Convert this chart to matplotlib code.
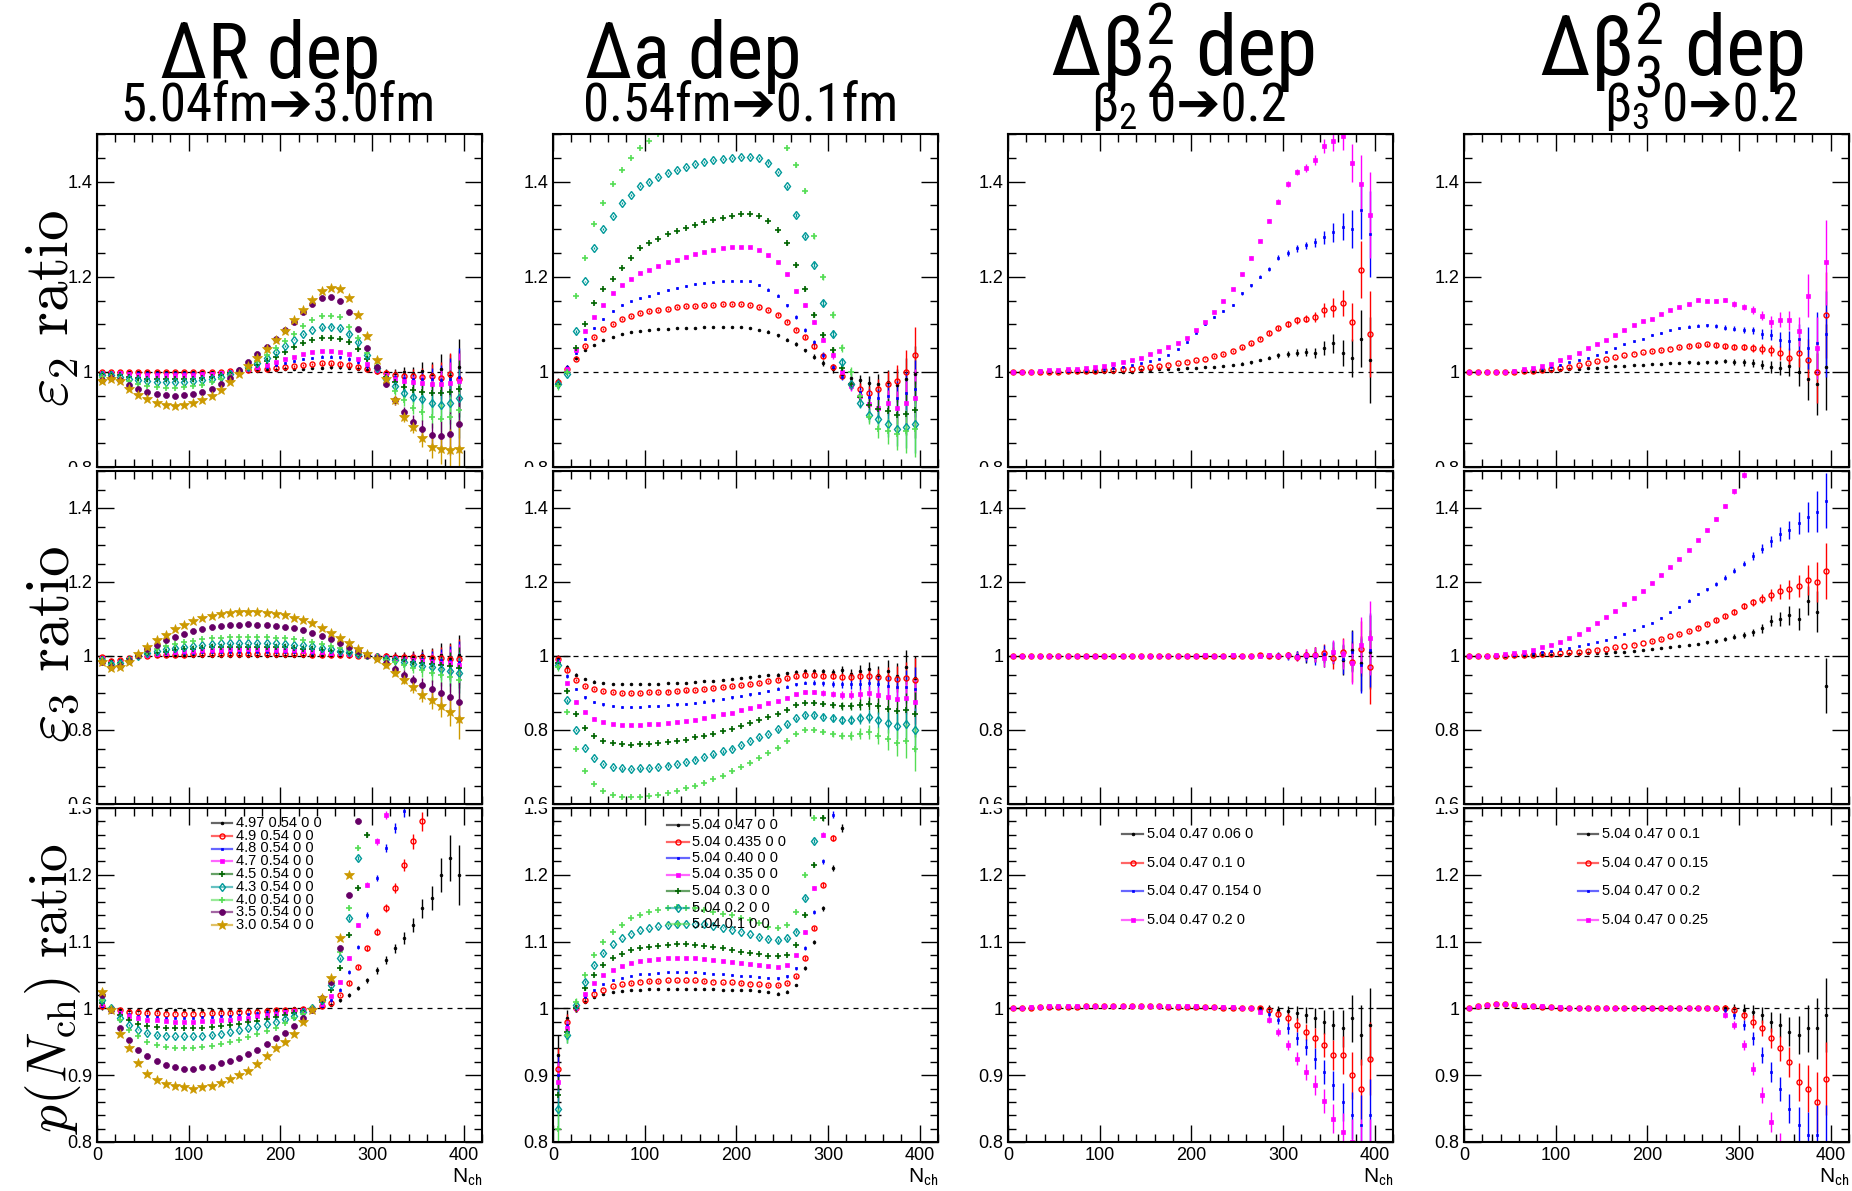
import numpy as np
import matplotlib
matplotlib.use('Agg')
import matplotlib.pyplot as plt
from matplotlib.lines import Line2D
from matplotlib.ticker import MultipleLocator, FormatStrFormatter
from matplotlib.transforms import Bbox, TransformedBbox
from matplotlib import font_manager

# bin centres in N_ch
nch = [5, 15, 25, 35, 45, 55, 65, 75, 85, 95, 105, 115, 125, 135, 145, 155, 165, 175, 185, 195,
       205, 215, 225, 235, 245, 255, 265, 275, 285, 295, 305, 315, 325, 335, 345, 355, 365, 375, 385, 395]

# all values below are (ratio - 1) x 1000, None = off the plot

# ---- eps2 ratio, Delta R
e2_dR_497 = [0,0,0,0,0,0,0,0,0,0, 0,0,0,0,0,1,1,2,3,4, 5,6,7,8,9,10,10,9,7,4, 1,-1,-2,0,-3,2,-4,5,-8,10]
e2_dR_49 = [0,0,0,-1,-1,-1,-1,-1,-1,-1, -1,-1,0,0,1,2,3,5,7,9, 11,13,15,17,18,18,17,15,11,6, 1,-3,-6,-8,-9,-10,-8,-12,-5,-15]
e2_dR_48 = [0,-1,-1,-2,-3,-3,-3,-3,-3,-3, -3,-2,-2,-1,1,3,5,8,11,15, 19,23,27,30,32,32,31,27,20,12, 3,-5,-10,-13,-15,-16,-15,-17,-15,-10]
e2_dR_47 = [-2,-2,-3,-5,-6,-7,-7,-7,-7,-7, -6,-5,-4,-2,0,3,6,10,15,20, 26,32,37,41,43,43,42,37,28,16, 4,-6,-15,-20,-22,-24,-25,-26,-24,-20]
e2_dR_45 = [-5,-5,-7,-10,-12,-14,-15,-15,-15,-15, -14,-12,-10,-7,-3,2,8,15,23,32, 42,52,61,68,72,72,70,62,48,28, 8,-10,-22,-32,-38,-42,-45,-45,-42,-35]
e2_dR_43 = [-7,-7,-10,-14,-18,-20,-22,-22,-22,-22, -20,-18,-15,-10,-5,1,10,19,30,42, 55,68,80,89,94,95,92,80,62,35, 8,-15,-30,-45,-52,-58,-65,-70,-65,-55]
e2_dR_40 = [-10,-10,-14,-20,-25,-29,-31,-33,-33,-32, -30,-27,-22,-16,-8,0,10,22,35,50, 65,80,97,110,117,118,115,95,72,40, 12,-15,-40,-60,-75,-85,-95,-100,-95,-80]
e2_dR_35 = [-18,-13,-17,-28,-37,-43,-47,-49,-50,-49, -47,-42,-35,-25,-12,3,20,37,53,70, 88,105,125,142,155,157,150,125,90,50, 10,-25,-60,-85,-105,-120,-132,-135,-130,-110]
e2_dR_30 = [-20,-14,-20,-35,-48,-58,-65,-69,-71,-70, -66,-60,-50,-38,-22,-5,12,30,48,66, 85,108,130,152,170,177,175,155,120,75, 25,-15,-60,-95,-115,-140,-158,-162,-165,-162]
err_e2_dR = [2,2,2,2,2,2,2,2,2,2, 2,2,2,2,2,2,2,2,2,2, 2,2,2,2,3,3,3,4,4,5, 6,7,9,11,14,18,24,32,45,60]

# ---- eps2 ratio, Delta a
e2_da_047 = [-20,10,30,45,57,67,74,79,83,86, 88,90,91,92,92,93,94,94,94,94, 94,92,89,84,77,68,58,45,32,18, 5,-5,-13,-18,-23,-25,-22,-28,-15,-5]
e2_da_0435 = [-22,5,28,55,73,90,100,111,118,123, 127,130,133,136,138,139,140,141,142,142, 142,140,137,130,120,105,89,73,54,33, 10,-8,-25,-35,-45,-35,-25,-20,0,35]
e2_da_040 = [-22,10,40,70,92,112,128,140,148,155, 160,166,172,177,181,185,187,189,191,192, 192,190,182,173,160,140,115,88,62,35, 10,-10,-28,-42,-52,-55,-50,-55,-45,-35]
e2_da_035 = [-25,5,45,85,115,140,165,182,195,207, 215,222,230,236,242,248,253,257,260,262, 262,262,257,245,230,205,170,140,105,68, 35,0,-30,-50,-68,-75,-65,-75,-65,-55]
e2_da_03 = [-25,0,50,100,145,175,195,218,240,260, 270,280,290,296,302,308,314,319,324,328, 331,332,328,318,298,270,225,175,120,78, 45,8,-25,-52,-70,-78,-82,-90,-88,-80]
e2_da_02 = [-25,-5,85,190,260,300,328,355,372,390, 400,410,418,424,430,436,441,445,448,450, 452,452,450,440,420,390,330,285,225,145, 80,20,-25,-65,-90,-100,-110,-120,-115,-110]
e2_da_01 = [-30,0,160,240,310,355,395,425,450,470, 485,500,515,525,535,545,550,555,560,562, 565,565,560,545,515,470,435,380,285,200, 120,50,0,-50,-95,-120,-125,-130,-125,-120]
err_e2_da = [8,4,3,2,2,2,2,2,2,2, 2,2,2,2,2,2,2,2,2,2, 2,2,2,3,3,3,4,4,5,6, 7,8,10,12,15,20,26,35,45,60]

# ---- eps2 ratio, beta2
e2_b2_006 = [0,0,0,0,0,0,0,0,0,0, 0,0,0,0,3,4,5,6,7,8, 9,10,11,12,14,17,20,25,30,35, 38,40,42,40,50,60,40,30,70,25]
e2_b2_01 = [0,0,0,0,0,0,1,1,2,2, 3,4,5,6,8,10,12,15,18,21, 24,28,33,38,43,52,60,70,82,92, 100,108,112,115,130,135,145,105,215,80]
e2_b2_0154 = [0,0,0,0,1,2,2,3,4,5, 7,9,11,14,18,22,28,36,47,62, 82,100,115,127,140,165,182,200,217,240, 250,260,266,272,283,293,305,300,340,290]
e2_b2_02 = [0,0,0,1,3,4,5,6,8,10, 13,16,20,25,30,37,44,52,60,72, 88,105,125,150,175,205,240,275,318,358, 395,420,428,445,475,485,495,440,395,330]
err_e2_b2 = [1,1,1,1,1,1,1,1,1,1, 1,1,1,1,1,1,1,1,1,1, 1,2,2,2,2,3,3,3,4,5, 6,7,8,10,14,20,28,40,60,90]

# ---- eps2 ratio, beta3
e2_b3_01 = [0,0,0,0,0,0,0,0,1,2, 3,5,6,8,9,10,12,13,14,15, 16,17,18,19,20,19,20,21,23,21, 20,18,15,10,8,12,0,-15,-25,10]
e2_b3_015 = [0,0,0,0,0,0,1,2,4,6, 8,11,14,18,22,26,31,35,38,41, 43,46,49,53,55,56,58,56,54,53, 52,50,48,45,40,30,40,25,0,120]
e2_b3_02 = [0,0,0,0,0,1,3,5,8,11, 15,20,25,30,36,42,50,58,64,70, 77,82,87,92,95,97,98,97,93,91, 88,87,80,78,68,65,70,50,60,80]
e2_b3_025 = [0,-1,-1,-1,0,2,5,8,12,17, 24,32,40,50,58,66,78,88,98,106, 112,122,130,136,142,152,150,150,151,142, 136,130,118,105,110,108,85,160,50,230]
err_e2_b3 = [1,1,1,1,1,1,1,1,1,1, 1,1,1,1,1,1,1,1,1,1, 2,2,2,2,3,3,3,4,5,6, 7,8,10,12,15,20,30,45,65,90]

# ---- eps3 ratio, Delta R
e3_dR_497 = [-3,-12,-10,-5,0,0,0,0,0,0, 0,0,0,0,0,0,0,0,0,0, 0,0,0,0,0,0,0,0,0,0, 0,0,0,0,-2,2,-3,4,-5,3]
e3_dR_49 = [-4,-14,-12,-6,0,1,2,3,4,4, 5,5,5,6,6,6,6,6,6,6, 5,5,5,4,4,3,2,2,1,0, 0,-1,-2,-3,-3,-4,-5,-6,-7,-8]
e3_dR_48 = [-5,-16,-14,-7,0,2,4,6,7,8, 9,10,11,11,12,12,12,12,12,11, 11,10,10,9,8,6,5,3,2,0, -1,-2,-4,-6,-7,-8,-10,-12,-13,-15]
e3_dR_47 = [-6,-18,-16,-8,0,4,6,9,11,13, 14,15,16,17,18,18,18,18,18,17, 16,16,14,13,11,9,7,5,3,1, -1,-3,-6,-8,-10,-13,-15,-18,-20,-23]
e3_dR_45 = [-8,-20,-18,-9,1,5,9,12,15,18, 20,21,23,24,25,25,25,25,25,24, 23,22,20,18,16,13,10,7,4,1, -2,-5,-8,-12,-15,-18,-21,-25,-28,-32]
e3_dR_43 = [-10,-22,-20,-10,1,8,13,18,22,25, 28,30,32,34,35,35,36,35,35,34, 32,31,29,26,22,18,14,10,6,2, -2,-7,-12,-17,-21,-26,-30,-35,-40,-45]
e3_dR_40 = [-12,-25,-22,-12,2,11,19,26,32,37, 41,45,48,50,51,52,52,52,51,50, 48,46,42,38,33,27,21,15,9,3, -3,-10,-17,-25,-32,-38,-45,-52,-58,-65]
e3_dR_35 = [-15,-30,-28,-14,3,18,31,42,52,60, 67,73,78,82,84,85,86,85,84,82, 79,75,70,63,55,45,35,24,14,4, -6,-20,-35,-50,-65,-78,-90,-100,-112,-125]
e3_dR_30 = [-15,-32,-30,-15,5,25,43,58,72,84, 94,102,109,114,117,119,120,119,117,114, 110,104,97,88,76,62,48,34,20,6, -7,-25,-45,-65,-85,-105,-120,-135,-150,-170]
err_e3_dR = [3,3,2,2,2,2,2,2,2,2, 2,2,2,2,2,2,2,2,2,2, 2,2,3,3,3,4,4,5,5,6, 7,8,10,12,15,18,24,30,40,55]

# ---- eps3 ratio, Delta a
e3_da_047 = [-6,-30,-50,-62,-69,-73,-75,-76,-76,-76, -76,-75,-74,-73,-72,-70,-68,-67,-65,-62, -60,-58,-55,-52,-50,-46,-42,-40,-40,-41, -42,-38,-48,-40,-35,-50,-40,-55,-30,-60]
e3_da_0435 = [-8,-39,-65,-81,-90,-95,-98,-99,-99,-99, -98,-98,-96,-95,-93,-91,-89,-87,-84,-81, -78,-75,-72,-68,-64,-60,-55,-52,-52,-53, -55,-56,-56,-55,-53,-56,-59,-61,-60,-65]
e3_da_040 = [-11,-54,-90,-112,-124,-131,-135,-137,-137,-137, -136,-135,-133,-131,-129,-126,-123,-120,-116,-112, -108,-104,-99,-94,-89,-83,-76,-72,-72,-74, -76,-77,-77,-76,-74,-77,-81,-85,-83,-90]
e3_da_035 = [-15,-74,-123,-152,-169,-179,-184,-186,-187,-186, -185,-184,-181,-179,-175,-172,-168,-163,-158,-153, -147,-141,-135,-128,-122,-113,-103,-98,-98,-100, -103,-105,-105,-103,-100,-105,-110,-115,-113,-123]
e3_da_03 = [-19,-95,-158,-195,-217,-230,-236,-239,-240,-239, -238,-236,-233,-230,-226,-220,-215,-210,-203,-197, -189,-181,-173,-165,-156,-145,-132,-126,-126,-129, -132,-135,-135,-132,-129,-135,-142,-148,-145,-158]
e3_da_02 = [-25,-120,-200,-248,-276,-292,-300,-304,-305,-304, -302,-300,-296,-292,-286,-280,-274,-266,-258,-250, -240,-230,-220,-210,-198,-184,-168,-160,-160,-164, -168,-172,-172,-168,-164,-172,-180,-188,-184,-200]
e3_da_01 = [-30,-150,-250,-310,-345,-365,-375,-380,-381,-380, -378,-375,-370,-365,-358,-350,-342,-333,-323,-312, -300,-288,-275,-262,-248,-230,-210,-200,-200,-205, -210,-215,-215,-210,-205,-215,-225,-235,-230,-250]
err_e3_da = [10,5,3,3,3,3,3,3,3,3, 3,3,3,3,3,3,3,3,3,3, 3,3,3,3,4,4,4,5,6,7, 8,10,12,15,18,22,28,35,45,60]

# ---- eps3 ratio, beta2
e3_b2_006 = [0,0,0,0,0,0,0,0,0,0, 0,0,1,0,1,0,1,1,0,1, 1,0,1,0,1,1,0,1,1,0, 1,2,-3,5,-6,8,-10,15,-20,10]
e3_b2_01 = [0,0,0,0,0,0,0,0,0,0, 0,1,0,1,0,1,1,0,1,1, 0,1,1,0,1,0,1,2,0,1, 2,-2,3,3,8,-5,10,-15,20,-30]
e3_b2_0154 = [0,0,0,0,0,0,0,0,0,0, 1,0,1,0,1,0,1,1,1,0, 1,1,0,1,1,1,0,1,0,2, -1,2,-2,-3,5,10,-8,12,-25,15]
e3_b2_02 = [0,0,0,0,0,0,0,0,1,0, 1,0,1,1,0,1,1,1,1,1, 1,2,1,1,2,1,1,0,2,1, 2,-2,4,4,-5,12,6,-20,30,50]
err_e3_b2 = [1,1,1,1,1,1,1,1,1,1, 1,1,1,1,1,1,1,1,1,1, 2,2,2,2,3,3,4,5,6,8, 10,12,15,20,25,30,40,55,75,100]

# ---- eps3 ratio, beta3
e3_b3_01 = [0,0,0,0,0,1,1,2,2,3, 4,5,6,7,8,9,10,12,14,16, 18,21,24,27,30,33,37,41,46,52, 58,64,75,95,100,110,100,150,120,-80]
e3_b3_015 = [0,0,0,0,1,2,3,4,5,6, 8,10,12,14,17,20,23,27,31,35, 40,46,53,60,68,77,87,97,108,120, 135,145,155,165,175,180,190,205,200,230]
e3_b3_02 = [0,0,0,1,2,4,6,8,11,14, 18,22,27,32,38,44,52,60,70,80, 90,104,118,133,150,167,180,195,212,230, 250,270,290,310,330,340,360,375,390,420]
e3_b3_025 = [0,0,1,3,5,8,12,17,23,30, 38,48,60,74,89,105,122,140,158,177, 197,218,240,263,287,313,340,370,405,445, 490,None,None,None,None,None,None,None,None,None]
err_e3_b3 = [1,1,1,1,1,1,1,1,1,1, 1,1,1,1,1,1,1,1,1,1, 2,2,2,3,3,3,4,5,6,7, 8,10,12,15,20,25,30,40,55,75]

# ---- p(Nch) ratio, Delta R
pn_dR_497 = [2,0,-1,-2,-2,-2,-2,-2,-2,-2, -2,-2,-2,-2,-2,-2,-1,-1,-1,-1, -1,0,0,0,2,5,12,20,30,42, 57,72,90,105,125,150,165,200,225,200]
pn_dR_49 = [3,0,-3,-5,-6,-7,-7,-8,-8,-8, -8,-8,-7,-7,-7,-6,-5,-5,-4,-3, -3,-2,-1,0,3,8,20,38,62,90, 115,150,180,215,250,280,None,None,None,None]
pn_dR_48 = [4,0,-5,-9,-11,-12,-13,-14,-14,-14, -14,-13,-13,-12,-11,-10,-9,-7,-6,-5, -4,-2,-1,0,4,12,28,55,92,140, 195,240,270,295,None,None,None,None,None,None]
pn_dR_47 = [6,0,-7,-12,-15,-17,-18,-19,-20,-20, -20,-19,-19,-18,-17,-15,-14,-12,-10,-8, -6,-4,-2,0,6,18,40,75,125,185, 250,290,None,None,None,None,None,None,None,None]
pn_dR_45 = [8,0,-10,-18,-23,-26,-28,-29,-30,-30, -30,-29,-28,-27,-25,-23,-21,-19,-16,-13, -10,-7,-4,0,10,28,60,110,180,260, None,None,None,None,None,None,None,None,None,None]
pn_dR_43 = [12,0,-15,-25,-32,-37,-40,-41,-42,-42, -42,-41,-40,-38,-36,-33,-30,-27,-24,-20, -16,-11,-6,0,12,35,75,135,225,None, None,None,None,None,None,None,None,None,None,None]
pn_dR_40 = [12,0,-18,-32,-42,-50,-55,-58,-60,-60, -59,-58,-56,-54,-51,-47,-43,-39,-34,-29, -22,-15,-8,0,15,40,85,150,240,None, None,None,None,None,None,None,None,None,None,None]
pn_dR_35 = [20,-2,-30,-48,-63,-72,-79,-84,-88,-90, -91,-88,-87,-82,-78,-74,-69,-62,-54,-45, -37,-27,-15,-2,15,40,90,170,280,None, None,None,None,None,None,None,None,None,None,None]
pn_dR_30 = [25,-2,-38,-60,-82,-98,-107,-113,-116,-117, -120,-118,-116,-112,-106,-100,-93,-83,-72,-60, -50,-38,-20,-3,15,45,105,200,None,None, None,None,None,None,None,None,None,None,None,None]
err_pn_dR = [4,2,1,1,1,1,1,1,1,1, 1,1,1,1,1,1,1,1,1,1, 1,1,1,1,2,2,2,3,3,4, 5,6,7,9,11,14,18,25,35,45]

# ---- p(Nch) ratio, Delta a
pn_da_047 = [-70,-15,0,10,17,21,24,26,27,28, 29,29,29,29,29,29,29,29,28,28, 27,27,26,24,22,25,35,60,100,150, 210,270,None,None,None,None,None,None,None,None]
pn_da_0435 = [-90,-20,0,13,22,28,33,36,38,40, 41,41,42,42,42,42,41,40,39,39, 38,37,36,35,35,38,48,75,120,185, 255,None,None,None,None,None,None,None,None,None]
pn_da_040 = [-100,-25,0,17,28,36,42,46,49,51, 52,53,54,54,54,54,53,52,51,50, 49,48,47,46,45,48,60,90,145,220, 290,None,None,None,None,None,None,None,None,None]
pn_da_035 = [-110,-30,0,22,38,50,58,64,68,71, 73,74,75,76,76,75,74,73,71,70, 68,66,65,63,62,65,80,115,180,260, None,None,None,None,None,None,None,None,None,None]
pn_da_03 = [-130,-35,0,30,50,65,75,82,87,90, 92,94,95,96,96,95,94,92,90,88, 85,83,81,79,78,80,95,140,215,285, None,None,None,None,None,None,None,None,None,None]
pn_da_02 = [-150,-40,5,40,65,83,96,105,112,117, 120,123,125,126,127,127,126,124,121,118, 115,111,107,104,102,105,115,165,250,None, None,None,None,None,None,None,None,None,None,None]
pn_da_01 = [-180,-40,10,50,80,100,115,125,135,140, 145,148,150,152,150,150,148,145,142,140, 136,132,128,122,120,125,145,200,285,None, None,None,None,None,None,None,None,None,None,None]
err_pn_da = [30,12,5,2,1,1,1,1,1,1, 1,1,1,1,1,1,1,1,1,1, 1,1,1,1,2,2,2,3,3,4, 5,6,7,9,11,14,18,25,35,45]

# ---- p(Nch) ratio, beta2
pn_b2_006 = [0,1,1,2,2,2,2,2,2,3, 3,3,3,3,3,3,2,2,2,2, 2,2,2,1,1,1,0,0,0,-2, -4,-7,-10,-15,-20,-25,-30,-15,-40,-25]
pn_b2_01 = [0,1,1,2,2,2,2,2,3,3, 3,3,3,3,3,3,3,2,2,2, 2,2,2,1,1,1,0,0,-3,-8, -15,-25,-35,-45,-55,-70,-70,-100,-120,-75]
pn_b2_0154 = [0,1,1,2,2,2,3,3,3,3, 3,3,3,3,3,3,3,3,2,2, 2,2,2,2,1,1,0,-2,-8,-18, -30,-45,-58,-75,-95,-115,-140,-160,-175,-160]
pn_b2_02 = [0,1,2,2,3,3,3,3,3,3, 4,4,4,4,4,3,3,3,3,3, 3,2,2,2,2,1,0,-5,-17,-35, -55,-75,-95,-115,-138,-165,-185,-200,-210,-220]
err_pn_b2 = [2,1,1,1,1,1,1,1,1,1, 1,1,1,1,1,1,1,1,1,1, 1,1,1,2,2,2,3,4,5,6, 8,10,12,15,18,22,28,35,45,55]

# ---- p(Nch) ratio, beta3
pn_b3_01 = [0,3,5,6,6,5,4,3,2,2, 1,1,1,1,1,1,1,1,1,1, 0,0,0,0,0,0,0,0,0,0, -2,-5,-10,-20,-25,-35,-40,-30,-30,-10]
pn_b3_015 = [0,3,5,6,6,5,4,3,2,2, 1,1,1,1,1,1,1,1,1,1, 0,0,0,0,0,0,0,0,0,-3, -10,-20,-30,-45,-60,-80,-110,-120,-140,-105]
pn_b3_02 = [0,3,5,6,6,5,4,3,2,2, 1,1,1,1,1,1,1,1,1,1, 0,0,0,0,0,0,0,0,-3,-10, -25,-45,-70,-95,-120,-150,-175,-190,-190,-200]
pn_b3_025 = [0,3,5,7,7,6,5,4,3,2, 2,1,1,1,1,1,1,1,1,1, 0,0,0,0,0,0,0,0,-10,-25, -55,-90,-130,-170,-205,None,None,None,None,None]
err_pn_b3 = [2,1,1,1,1,1,1,1,1,1, 1,1,1,1,1,1,1,1,1,1, 1,1,1,2,2,2,3,4,5,6, 8,10,12,15,18,22,28,35,45,55]

labels_dR = ['4.97 0.54 0 0', '4.9 0.54 0 0', '4.8 0.54 0 0', '4.7 0.54 0 0', '4.5 0.54 0 0',
             '4.3 0.54 0 0', '4.0 0.54 0 0', '3.5 0.54 0 0', '3.0 0.54 0 0']
labels_da = ['5.04 0.47 0 0', '5.04 0.435 0 0', '5.04 0.40 0 0', '5.04 0.35 0 0',
             '5.04 0.3 0 0', '5.04 0.2 0 0', '5.04 0.1 0 0']
labels_b2 = ['5.04 0.47 0.06 0', '5.04 0.47 0.1 0', '5.04 0.47 0.154 0', '5.04 0.47 0.2 0']
labels_b3 = ['5.04 0.47 0 0.1', '5.04 0.47 0 0.15', '5.04 0.47 0 0.2', '5.04 0.47 0 0.25']

# ---------------------------------------------------------------- fonts
names = {f.name for f in font_manager.fontManager.ttflist}
narrow = 'Roboto Condensed' if 'Roboto Condensed' in names else None
tfam = ([narrow] if narrow else []) + ['Liberation Sans', 'DejaVu Sans']
title_size = 56 if narrow else 48
math_title_size = 60 if narrow else 52
sub_size = 38 if narrow else 34

plt.rcParams['font.family'] = ['Liberation Sans', 'DejaVu Sans']
plt.rcParams['mathtext.fontset'] = 'custom'
plt.rcParams['mathtext.rm'] = tfam[0]
plt.rcParams['mathtext.it'] = tfam[0] + ':italic'
plt.rcParams['mathtext.bf'] = tfam[0] + ':bold'

sty = {
    'k': dict(marker='o', ms=2.0, color='black', mfc='black', mew=0.5),
    'r': dict(marker='o', ms=3.6, color='red', mfc='none', mew=1.0),
    'b': dict(marker='s', ms=2.0, color='blue', mfc='blue', mew=0.5),
    'm': dict(marker='s', ms=3.3, color='magenta', mfc='magenta', mew=0.5),
    'dg': dict(marker='+', ms=4.0, color='#006400', mfc='#006400', mew=1.2),
    'tl': dict(marker='d', ms=4.5, color='#009999', mfc='none', mew=1.0),
    'lg': dict(marker='+', ms=4.0, color='#55dd55', mfc='#55dd55', mew=1.2),
    'pu': dict(marker='o', ms=4.3, color='#660066', mfc='#660066', mew=0.5),
    'go': dict(marker='*', ms=7, color='#cc9900', mfc='#cc9900', mew=0.5),
}
sty_dR = ['k', 'r', 'b', 'm', 'dg', 'tl', 'lg', 'pu', 'go']
sty_da = ['k', 'r', 'b', 'm', 'dg', 'tl', 'lg']
sty_b = ['k', 'r', 'b', 'm']

rows = [
    [([e2_dR_497, e2_dR_49, e2_dR_48, e2_dR_47, e2_dR_45, e2_dR_43, e2_dR_40, e2_dR_35, e2_dR_30], err_e2_dR),
     ([e2_da_047, e2_da_0435, e2_da_040, e2_da_035, e2_da_03, e2_da_02, e2_da_01], err_e2_da),
     ([e2_b2_006, e2_b2_01, e2_b2_0154, e2_b2_02], err_e2_b2),
     ([e2_b3_01, e2_b3_015, e2_b3_02, e2_b3_025], err_e2_b3)],
    [([e3_dR_497, e3_dR_49, e3_dR_48, e3_dR_47, e3_dR_45, e3_dR_43, e3_dR_40, e3_dR_35, e3_dR_30], err_e3_dR),
     ([e3_da_047, e3_da_0435, e3_da_040, e3_da_035, e3_da_03, e3_da_02, e3_da_01], err_e3_da),
     ([e3_b2_006, e3_b2_01, e3_b2_0154, e3_b2_02], err_e3_b2),
     ([e3_b3_01, e3_b3_015, e3_b3_02, e3_b3_025], err_e3_b3)],
    [([pn_dR_497, pn_dR_49, pn_dR_48, pn_dR_47, pn_dR_45, pn_dR_43, pn_dR_40, pn_dR_35, pn_dR_30], err_pn_dR),
     ([pn_da_047, pn_da_0435, pn_da_040, pn_da_035, pn_da_03, pn_da_02, pn_da_01], err_pn_da),
     ([pn_b2_006, pn_b2_01, pn_b2_0154, pn_b2_02], err_pn_b2),
     ([pn_b3_01, pn_b3_015, pn_b3_02, pn_b3_025], err_pn_b3)],
]
col_styles = [sty_dR, sty_da, sty_b, sty_b]
col_labels = [labels_dR, labels_da, labels_b2, labels_b3]

# y ranges per row: (low, high, major, minor)
row_y = [(0.8, 1.5, 0.2, 0.05), (0.6, 1.5, 0.2, 0.05), (0.8, 1.3, 0.1, 0.02)]

W, H = 1852, 1191
fig = plt.figure(figsize=(W / 100, H / 100), dpi=100)

col_left = [97, 553, 1008, 1464]
col_w = 385
row_top = [134, 471, 808]
row_h = [333, 333, 334]

x = np.array(nch, dtype=float)
axes = []
for r in range(3):
    lo, hi, maj, mnr = row_y[r]
    for c in range(4):
        ax = fig.add_axes([col_left[c] / W, 1 - (row_top[r] + row_h[r]) / H, col_w / W, row_h[r] / H])
        axes.append((r, ax))
        series, err = rows[r][c]
        e = np.array(err, dtype=float) / 1000
        ax.hlines(1.0, 0, 400, colors='black', linestyles=(0, (4, 4)), lw=0.9, zorder=1)
        for vals, key in zip(series, col_styles[c]):
            s = sty[key]
            y = 1 + np.array(vals, dtype=float) / 1000
            ax.errorbar(x, y, yerr=e, linestyle='none', marker=s['marker'], ms=s['ms'],
                        color=s['color'], mfc=s['mfc'], mec=s['color'], mew=s['mew'],
                        ecolor=s['color'], elinewidth=1.0, capsize=0, zorder=2)
        ax.set_xlim(0, 420)
        ax.set_ylim(lo, hi)
        ax.xaxis.set_major_locator(MultipleLocator(100))
        ax.xaxis.set_minor_locator(MultipleLocator(20))
        ax.yaxis.set_major_locator(MultipleLocator(maj))
        ax.yaxis.set_minor_locator(MultipleLocator(mnr))
        ax.yaxis.set_major_formatter(FormatStrFormatter('%g'))
        ax.xaxis.set_major_formatter(FormatStrFormatter('%g'))
        ax.tick_params(which='both', direction='in', top=True, right=True, width=1.0)
        ax.tick_params(which='major', length=12, labelsize=13)
        ax.tick_params(which='minor', length=6)
        if r < 2:
            ax.tick_params(labelbottom=False)
        for sp in ax.spines.values():
            sp.set_linewidth(1.5)
        if r == 2:
            ax.text(1.0, -0.075, r'N$_{\rm ch}$', transform=ax.transAxes, ha='right', va='top',
                    fontsize=15, math_fontfamily='custom')

# legends in the bottom row (pixel positions of the reference)
leg_pos = [(212, 232, 236, 823, 12.75), (667, 689, 692, 825, 16.5),
           (1122, 1143, 1147, 834, 28.7), (1578, 1598, 1602, 834, 28.7)]
for c in range(4):
    x0, x1, tx, y0, dy = leg_pos[c]
    for i, (lab, key) in enumerate(zip(col_labels[c], col_styles[c])):
        s = sty[key]
        fy = 1 - (y0 + dy * i) / H
        fig.add_artist(Line2D([x0 / W, x1 / W], [fy, fy], transform=fig.transFigure,
                              color=s['color'], lw=1.6, alpha=0.6))
        fig.add_artist(Line2D([(x0 + x1) / 2 / W], [fy], transform=fig.transFigure, linestyle='none',
                              marker=s['marker'], ms=s['ms'], color=s['color'], mfc=s['mfc'],
                              mec=s['color'], mew=s['mew']))
        fig.text(tx / W, fy, lab, fontsize=10.5, va='center', ha='left')

# y axis titles
ylab = [(r'$\varepsilon_2\ \mathrm{ratio}$', 308, 44), (r'$\varepsilon_3\ \mathrm{ratio}$', 644, 44),
        (r'$p(N_{\rm ch})\ \mathrm{ratio}$', 989, 40)]
for t, yc, fs in ylab:
    fig.text(53 / W, 1 - yc / H, t, rotation=90, ha='center', va='center', fontsize=fs, math_fontfamily='cm')

# column titles
fig.text(270 / W, 1 - 78 / H, 'ΔR dep', ha='center', va='baseline', fontsize=title_size, family=tfam)
fig.text(693 / W, 1 - 78 / H, 'Δa dep', ha='center', va='baseline', fontsize=title_size, family=tfam)
fig.text(1001 * 1.181 / W, 1 - 76 / H, r'$\mathrm{\Delta\beta_2^2}$ dep', ha='center', va='baseline',
         fontsize=math_title_size, family=tfam, math_fontfamily='custom')
fig.text(1415 * 1.181 / W, 1 - 76 / H, r'$\mathrm{\Delta\beta_3^2}$ dep', ha='center', va='baseline',
         fontsize=math_title_size, family=tfam, math_fontfamily='custom')

fig.text(278 / W, 1 - 121 / H, '5.04fm➔3.0fm', ha='center', va='baseline', fontsize=sub_size, family=tfam)
fig.text(741 / W, 1 - 121 / H, '0.54fm➔0.1fm', ha='center', va='baseline', fontsize=sub_size, family=tfam)
fig.text(1138 / W, 1 - 121 / H, r'$\mathrm{\beta_2}$', ha='right', va='baseline', fontsize=sub_size,
         family=tfam, math_fontfamily='custom')
fig.text(1138 / W, 1 - 121 / H, ' 0➔0.2', ha='left', va='baseline', fontsize=sub_size, family=tfam)
fig.text(1650 / W, 1 - 121 / H, r'$\mathrm{\beta_3}$', ha='right', va='baseline', fontsize=sub_size,
         family=tfam, math_fontfamily='custom')
fig.text(1650 / W, 1 - 121 / H, ' 0➔0.2', ha='left', va='baseline', fontsize=sub_size, family=tfam)

# pads clip their own y labels (as ROOT does); the bottom row keeps its lowest label
fig.canvas.draw()
for r, ax in axes:
    bb = ax.get_position()
    low = 0 if r == 2 else bb.y0
    clip = TransformedBbox(Bbox([[0, low], [1, bb.y1]]), fig.transFigure)
    for lab in ax.get_yticklabels():
        lab.set_clip_box(clip)
        lab.set_clip_on(True)

fig.savefig('out.png', dpi=100)
